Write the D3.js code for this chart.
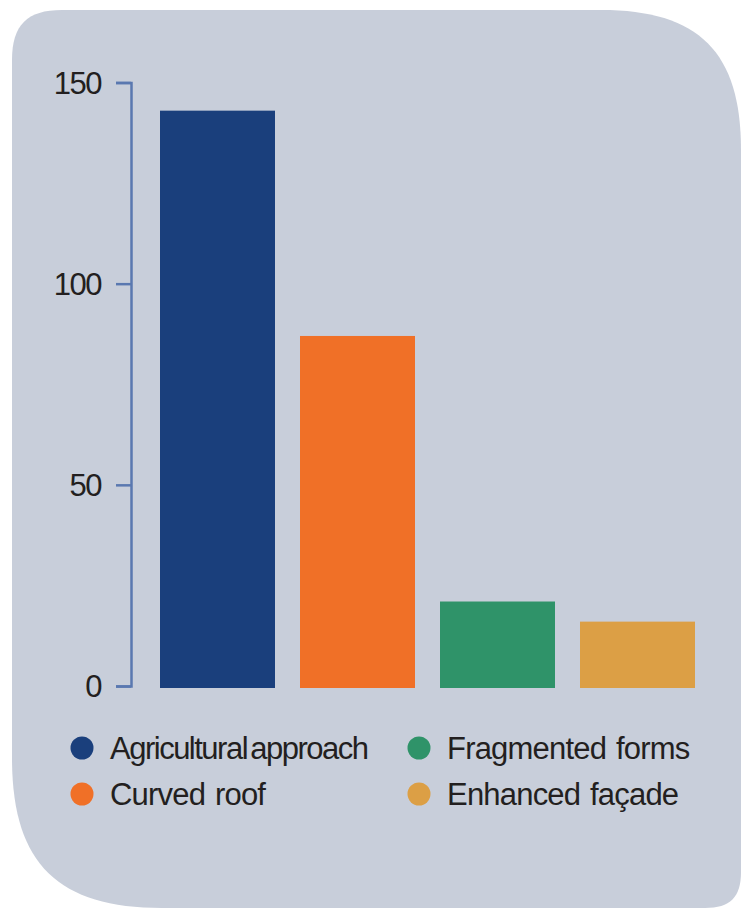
<!DOCTYPE html>
<html><head><meta charset="utf-8">
<script src="https://cdn.jsdelivr.net/npm/d3@7/dist/d3.min.js"></script>
<style>
html,body{margin:0;padding:0;background:#fff;}
svg{display:block;}
text{font-family:"Liberation Sans",Arial,Helvetica,sans-serif;fill:#231f20;}
</style></head>
<body>
<script>
const categories = ["Agricultural approach","Curved roof","Fragmented forms","Enhanced façade"];
const values = [143, 87, 21, 16];
const colors = ["#1a3f7c","#f07027","#2f9369","#dc9f45"];
const yTicks = [0, 50, 100, 150];

const W = 744, H = 911;
const svg = d3.select("body").append("svg").attr("width", W).attr("height", H);

// background panel with uneven rounded corners
const x0 = 12, y0 = 10, x1 = 741, y1 = 908;
const rTL = 50, rTR = 140, rBR = 36, rBL = 150;
const p = d3.path();
p.moveTo(x0 + rTL, y0);
p.lineTo(x1 - rTR, y0);
p.bezierCurveTo(x1 - rTR*0.3, y0, x1, y0 + rTR*0.3, x1, y0 + rTR);
p.lineTo(x1, y1 - rBR);
p.bezierCurveTo(x1, y1 - rBR*0.3, x1 - rBR*0.3, y1, x1 - rBR, y1);
p.lineTo(x0 + rBL, y1);
p.bezierCurveTo(x0 + rBL*0.3, y1, x0, y1 - rBL*0.3, x0, y1 - rBL);
p.lineTo(x0, y0 + rTL);
p.bezierCurveTo(x0, y0 + rTL*0.3, x0 + rTL*0.3, y0, x0 + rTL, y0);
p.closePath();
svg.append("path").attr("d", p.toString()).attr("fill", "#c8ceda");

const y = d3.scaleLinear().domain([0, 150]).range([686, 82.5]);
const x = d3.scaleBand().domain(categories).range([147.5, 707.5])
  .paddingInner(25/140).paddingOuter(12.5/140);

// bars
svg.append("g").selectAll("rect").data(categories).join("rect")
  .attr("x", d => x(d))
  .attr("width", x.bandwidth())
  .attr("y", (d,i) => y(values[i]))
  .attr("height", (d,i) => 688 - y(values[i]))
  .attr("fill", (d,i) => colors[i]);

// axis
const axis = d3.axisLeft(y).tickValues(yTicks).tickSize(15).tickPadding(16).tickFormat(d3.format("d"));
const ag = svg.append("g").attr("transform", "translate(131,0)").call(axis);
ag.selectAll("path.domain").attr("stroke", "#5a78b0").attr("stroke-width", 2.5);
ag.selectAll(".tick line").attr("stroke", "#5a78b0").attr("stroke-width", 2.5);
ag.selectAll(".tick text")
  .attr("font-family", '"Liberation Sans",Arial,sans-serif')
  .attr("font-size", 31).attr("letter-spacing", "-1.5px")
  .attr("fill", "#231f20").attr("dy", "0.34em").attr("dx", "1px");

// legend
const legX = [82, 419], legY = [748, 794];
const lg = svg.append("g").selectAll("g").data(categories).join("g")
  .attr("transform", (d,i) => `translate(${legX[i < 2 ? 0 : 1]},${legY[i % 2]})`);
lg.append("circle").attr("r", 11.5).attr("fill", (d,i) => colors[i]);
lg.append("text").attr("x", 28).attr("dy", "0.36em")
  .attr("font-size", 31)
  .attr("letter-spacing", (d,i) => i === 0 ? "-1.5px" : "-0.8px")
  .attr("word-spacing", (d,i) => i === 0 ? "-4px" : "2px")
  .text(d => d);
</script>
</body></html>
